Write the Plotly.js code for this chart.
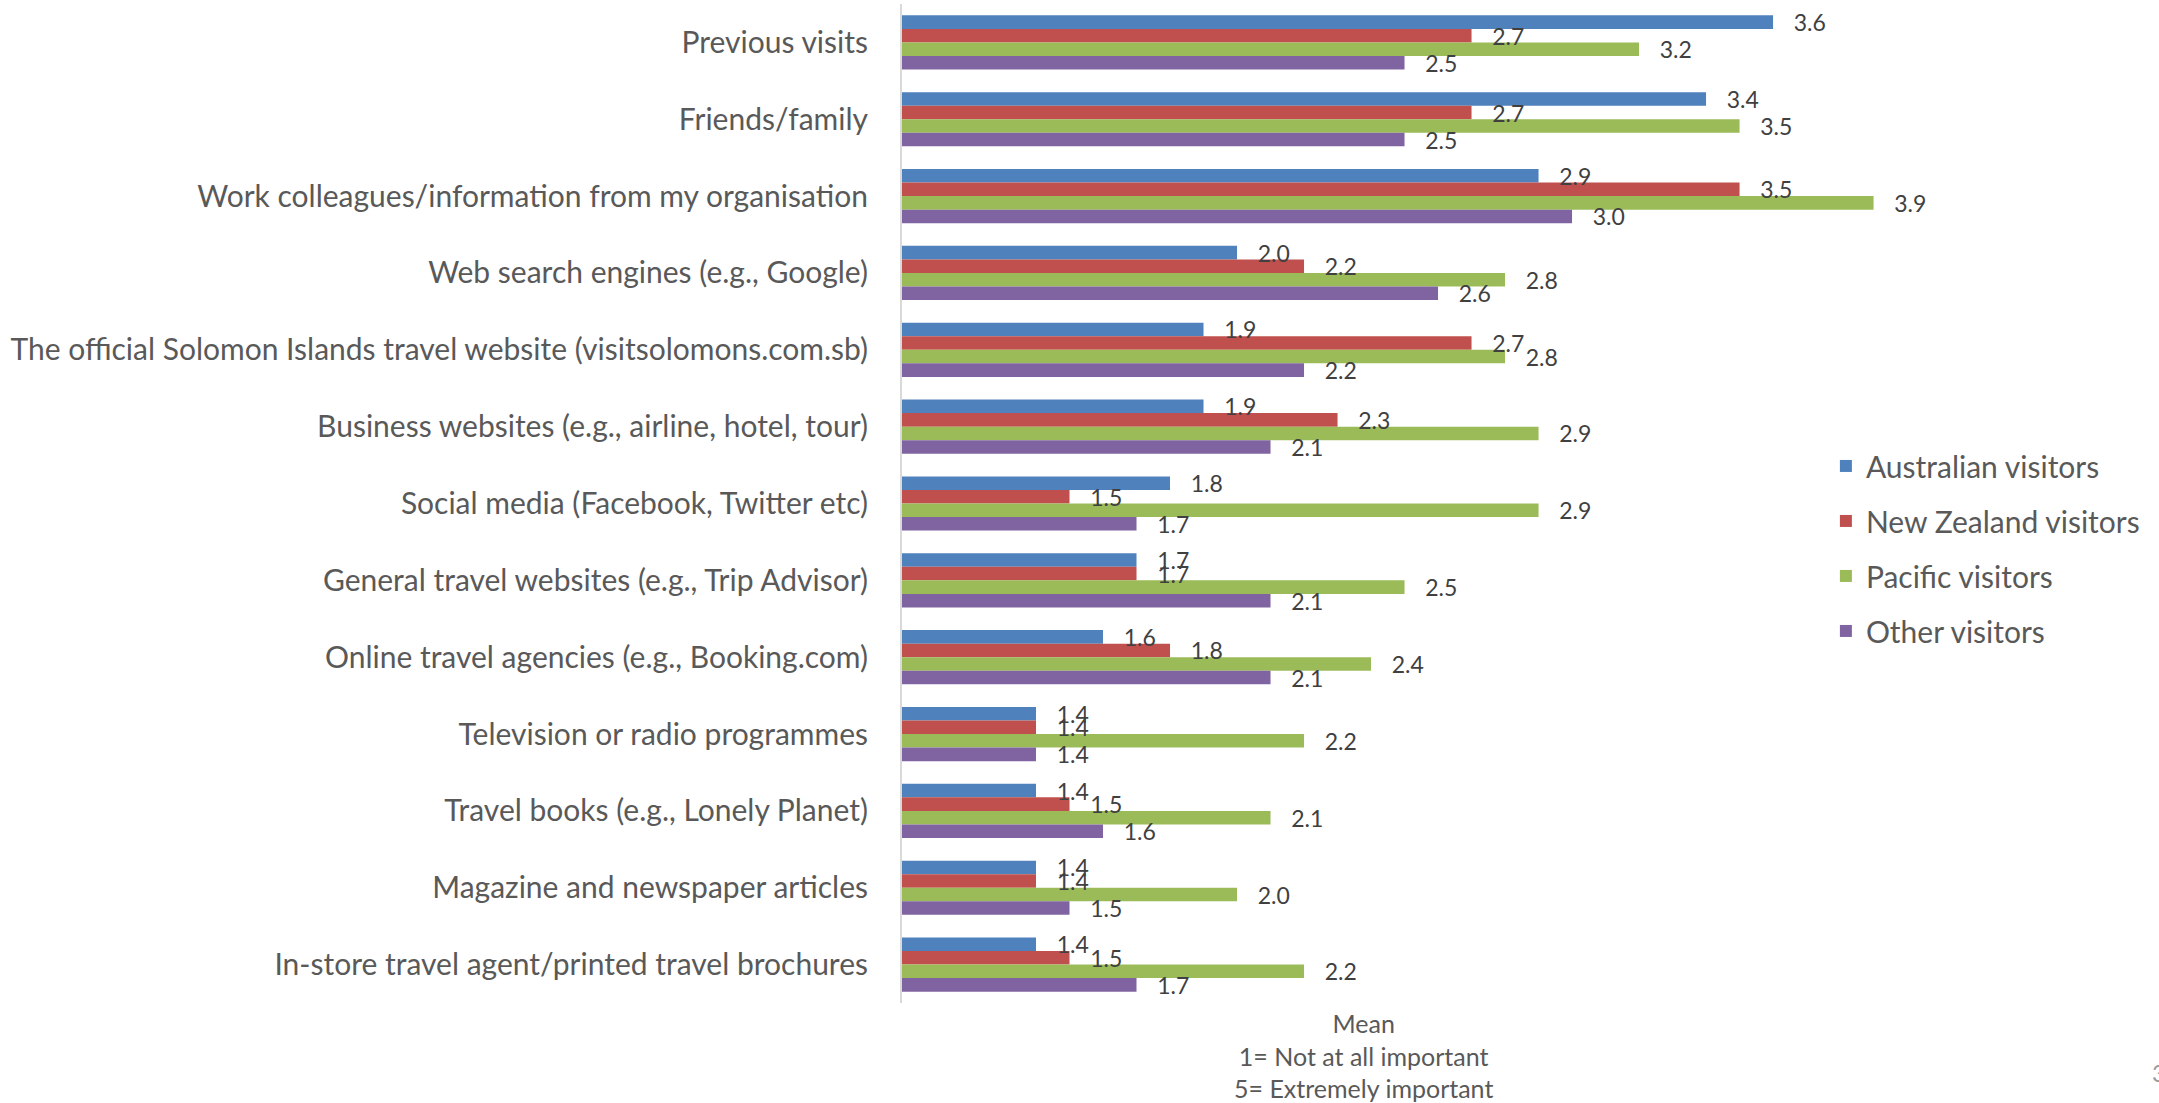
<!DOCTYPE html>
<html>
<head>
<meta charset="utf-8">
<script src="https://cdn.plot.ly/plotly-3.0.1.min.js"></script>
<style>
  html, body { margin: 0; padding: 0; background: #ffffff; }
  #chart { width: 2159px; height: 1103px; }
</style>
</head>
<body>
<div id="chart"></div>
<script>
// Information sources, listed top to bottom
const categories = [
  "Previous visits",
  "Friends/family",
  "Work colleagues/information from my organisation",
  "Web search engines (e.g., Google)",
  "The official Solomon Islands travel website (visitsolomons.com.sb)",
  "Business websites (e.g., airline, hotel, tour)",
  "Social media (Facebook, Twitter etc)",
  "General travel websites (e.g., Trip Advisor)",
  "Online travel agencies (e.g., Booking.com)",
  "Television or radio programmes",
  "Travel books (e.g., Lonely Planet)",
  "Magazine and newspaper articles",
  "In-store travel agent/printed travel brochures"
];

// Mean importance (1 = not at all important, 5 = extremely important)
const australian  = [3.6, 3.4, 2.9, 2.0, 1.9, 1.9, 1.8, 1.7, 1.6, 1.4, 1.4, 1.4, 1.4];
const newZealand  = [2.7, 2.7, 3.5, 2.2, 2.7, 2.3, 1.5, 1.7, 1.8, 1.4, 1.5, 1.4, 1.5];
const pacific     = [3.2, 3.5, 3.9, 2.8, 2.8, 2.9, 2.9, 2.5, 2.4, 2.2, 2.1, 2.0, 2.2];
const other       = [2.5, 2.5, 3.0, 2.6, 2.2, 2.1, 1.7, 2.1, 2.1, 1.4, 1.6, 1.5, 1.7];

const seriesNames = ["Australian visitors", "New Zealand visitors", "Pacific visitors", "Other visitors"];
const seriesValues = [australian, newZealand, pacific, other];
const seriesColors = ["#4F81BD", "#C0504D", "#9BBB59", "#8064A2"];

const axisTitleLines = ["Mean", "1= Not at all important", "5= Extremely important"];
const pageNumber = "3";

const FONT = "Lato, 'Open Sans', sans-serif";

// Coloured bars, one trace per visitor group
const barTraces = seriesNames.map((name, i) => ({
  type: "bar",
  orientation: "h",
  name: name,
  legendgroup: "g" + i,
  offsetgroup: "s" + i,
  x: seriesValues[i],
  y: categories,
  marker: { color: seriesColors[i], line: { width: 0 } },
  hoverinfo: "skip"
}));

// Value labels: transparent twins of the bars drawn afterwards,
// so every label sits above all of the coloured bars
const labelTraces = seriesNames.map((name, i) => ({
  type: "bar",
  orientation: "h",
  name: name + " labels",
  showlegend: false,
  offsetgroup: "s" + i,
  x: seriesValues[i],
  y: categories,
  marker: { color: "rgba(0,0,0,0)", line: { width: 0 } },
  texttemplate: "\u00a0\u00a0\u00a0%{x:.1f}",
  textposition: "outside",
  constraintext: "none",
  cliponaxis: false,
  textfont: { family: FONT, size: 23, color: "#404040" },
  hoverinfo: "skip"
}));

const layout = {
  width: 2159,
  height: 1103,
  paper_bgcolor: "#ffffff",
  plot_bgcolor: "#ffffff",
  font: { family: FONT, color: "#595959" },
  margin: { l: 902, r: 0, t: 4, b: 100, pad: 0 },
  barmode: "group",
  bargap: 0.295,
  bargroupgap: 0,
  showlegend: true,
  legend: {
    x: 0.735,
    xanchor: "left",
    y: 0.455,
    yanchor: "middle",
    traceorder: "grouped",
    tracegroupgap: 13,
    font: { family: FONT, size: 30, color: "#595959" },
    bgcolor: "rgba(0,0,0,0)",
    itemclick: false
  },
  xaxis: {
    range: [1, 4.752],
    showgrid: false,
    zeroline: false,
    showline: false,
    showticklabels: false,
    ticks: "",
    fixedrange: true
  },
  yaxis: {
    type: "category",
    autorange: "reversed",
    showgrid: false,
    zeroline: false,
    showline: true,
    linecolor: "#d9d9d9",
    linewidth: 2,
    ticks: "",
    ticklabelstandoff: 26,
    tickfont: { family: FONT, size: 30, color: "#595959" },
    fixedrange: true
  },
  annotations: [
    {
      xref: "paper", yref: "paper",
      x: 0.3668, y: -0.053,
      xanchor: "center", yanchor: "middle",
      text: axisTitleLines.join("<br>"),
      showarrow: false,
      font: { family: FONT, size: 25, color: "#595959" }
    },
    {
      xref: "paper", yref: "paper",
      x: (2150 - 902) / (2159 - 902), y: -0.07,
      xanchor: "left", yanchor: "middle",
      text: pageNumber,
      showarrow: false,
      font: { family: FONT, size: 24, color: "#9a9a9a" }
    }
  ]
};

Plotly.newPlot("chart", barTraces.concat(labelTraces), layout, { displayModeBar: false, staticPlot: true });
</script>
</body>
</html>
